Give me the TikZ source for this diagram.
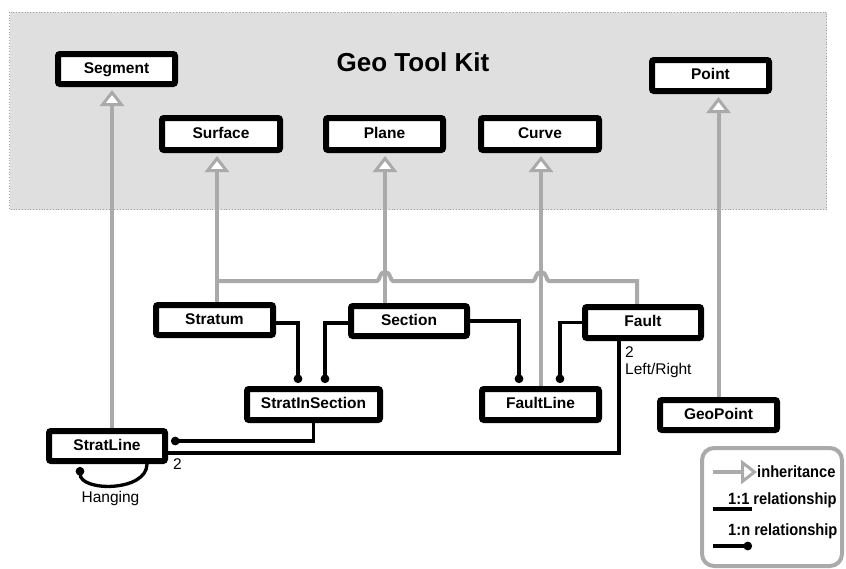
\documentclass[tikz,border=0pt]{standalone}
\usepackage{fontspec}
\setmainfont{Liberation Sans}
\newfontfamily\legfont[FakeStretch=0.9]{Liberation Sans}
\usetikzlibrary{arrows.meta}
\pgfdeclarelayer{back}
\pgfdeclarelayer{mid}
\pgfsetlayers{back,mid,main}
\definecolor{gline}{HTML}{AAAAAA}
\definecolor{bgfill}{HTML}{DFDFDF}
\definecolor{bgedge}{HTML}{A0A0A0}
\begin{document}
\begin{tikzpicture}[x=1pt,y=-1pt,
  box/.style={draw=black, line width=6pt, rounded corners=2pt, fill=white,
    minimum width=117pt, minimum height=31pt, inner sep=0pt,
    font=\fontsize{15.5}{18}\selectfont\bfseries, text height=11pt, text depth=3pt},
  inh/.style={draw=gline, line width=4pt,
    -{Triangle[length=16pt,width=24pt,fill=white,line width=3pt]}, shorten >=3pt},
  gl/.style={draw=gline, line width=4pt},
  rel/.style={draw=black, line width=3.3pt},
  many/.style={rel, -{Circle[length=8.5pt,width=8.5pt]}, shorten >=3pt},
  lbl/.style={font=\fontsize{15.5}{18}\selectfont, inner sep=0pt},
  leg/.style={font=\legfont\fontsize{16.3}{19}\selectfont\bfseries, inner sep=0pt, anchor=west},
]
\useasboundingbox (0,0) rectangle (846,568);

\begin{pgfonlayer}{back}
  \draw[bgedge, dotted, line width=0.8pt, fill=bgfill] (9.5,12) rectangle (826.5,209.5);
\end{pgfonlayer}

\node[font=\fontsize{26}{30}\selectfont\bfseries] (title) at (413,62) {Geo Tool Kit};

% Geo Tool Kit classes
\node[box, minimum height=30pt] (Segment) at (116.5,69) {Segment};
\node[box] (Point)   at (710.5,75.5) {Point};
\node[box, minimum width=118pt, minimum height=32pt] (Surface) at (221,134) {Surface};
\node[box, minimum height=32pt] (Plane)   at (384.5,134) {Plane};
\node[box, minimum width=118pt, minimum height=32pt] (Curve)   at (540,134) {Curve};

% model classes
\node[box, minimum height=30pt] (Stratum) at (214.5,320) {Stratum};
\node[box, minimum width=116pt, minimum height=30pt] (Section) at (409,321) {Section};
\node[box, minimum width=116pt] (Fault)   at (643,322.5) {Fault};
\node[box, minimum width=133pt] (StratInSection) at (313.5,404.5) {StratInSection};
\node[box] (FaultLine) at (540.5,404.5) {FaultLine};
\node[box, minimum height=30pt] (GeoPoint) at (718.5,415) {GeoPoint};
\node[box, minimum width=116pt, minimum height=30pt] (StratLine) at (107,446) {StratLine};

\begin{pgfonlayer}{mid}
  % inheritance
  \draw[inh] ([xshift=5pt]StratLine.north) -- ([xshift=-4.5pt]Segment.south);
  \draw[inh] ([xshift=2.5pt]Stratum.north) -- ([xshift=-4pt]Surface.south);
  \draw[inh] ([xshift=-24pt]Section.north) -- ([xshift=0.5pt]Plane.south);
  \draw[inh] ([xshift=0.5pt]FaultLine.north) -- ([xshift=1pt]Curve.south);
  \draw[inh] (GeoPoint.north) -- ([xshift=8pt]Point.south);
  \coordinate (busL) at (217,281);
  \draw[gl] ([xshift=-6pt]Fault.north) |- (549,281)
     .. controls (546,281) and (547,272) .. (541,272)
     .. controls (535,272) and (536,281) .. (533,281) -- (393,281)
     .. controls (390,281) and (391,272) .. (385,272)
     .. controls (379,272) and (380,281) .. (377,281) -- (busL);
  % relationships
  \draw[many] ([yshift=-3pt]Stratum.east) -| ([xshift=-15.5pt]StratInSection.north);
  \draw[many] ([yshift=-2pt]Section.west) -| ([xshift=11.5pt]StratInSection.north);
  \draw[many] (Section.east) -| ([xshift=-21.5pt]FaultLine.north);
  \draw[many] (Fault.west) -| ([xshift=19.5pt]FaultLine.north);
  \draw[many] (StratInSection.south) |- ([yshift=5pt]StratLine.east);
  \draw[rel] ([xshift=-24pt]Fault.south) |- ([yshift=-7pt]StratLine.east);
  \draw[many] ([xshift=40pt]StratLine.south) .. controls +(0,28) and +(0,28) .. ([xshift=-27pt]StratLine.south);
\end{pgfonlayer}

\node[lbl, anchor=west] (n2a) at (625,352) {2};
\node[lbl, anchor=west] (lr) at (625,370) {Left/Right};
\node[lbl, anchor=west] (n2b) at (173,464) {2};
\node[lbl] (hang) at (110.5,498) {Hanging};

% legend
\draw[rounded corners=12pt, draw=gline, line width=4pt, fill=white] (702,448) rectangle (842,566);
\node[leg] (li)  at (757,472) {inheritance};
\node[leg] (l11) at (728,500) {1:1 relationship};
\node[leg] (l1n) at (728,531) {1:n relationship};
\coordinate (a1) at (713,472);
\draw[inh, shorten >=0pt] (a1) -- (li.west);
\coordinate (b1) at (713,509);
\coordinate (b2) at (752,509);
\draw[rel] (b1) -- (b2);
\coordinate (c1) at (713,546);
\coordinate (c2) at (755,546);
\draw[many] (c1) -- (c2);
\end{tikzpicture}
\end{document}
